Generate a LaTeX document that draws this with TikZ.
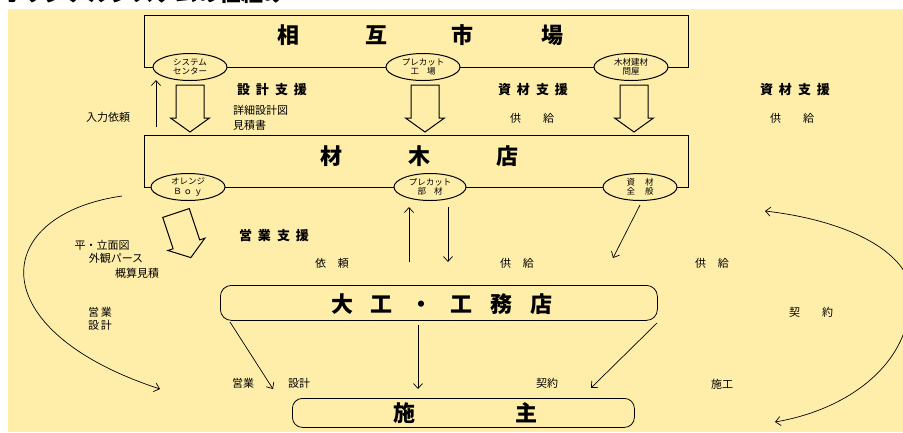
\documentclass[tikz,border=0pt]{standalone}
\usepackage{fontspec}
\setmainfont{Noto Sans CJK JP}
\usetikzlibrary{arrows.meta,shapes.geometric}
\definecolor{bg}{HTML}{FFEEAA}
\tikzset{
 lbl/.style={inner sep=0, font=\fontsize{11}{13}\selectfont},
 midlbl/.style={inner sep=0, font=\fontsize{13}{14}\selectfont\bfseries},
 big/.style={inner sep=0, font=\fontsize{22}{24}\selectfont\bfseries},
 ell/.style={ellipse, draw, line width=1pt, fill=bg, minimum width=74pt, minimum height=27pt, inner sep=0, align=center, font=\fontsize{8.5}{9.5}\selectfont},
 frame/.style={draw, line width=1.1pt, inner sep=0, anchor=north west},
 rframe/.style={draw, line width=0.8pt, rounded corners=11pt, inner sep=0, anchor=north west},
 con/.style={draw, line width=0.7pt, -{Straight Barb[length=5pt,width=9pt]}},
 hollow/.style={draw, line width=1pt, fill=bg},
 harrow/.pic={\draw[hollow] (-14,0) -- (-14,33) -- (-19.5,33) -- (0,47) -- (19.5,33) -- (14,33) -- (14,0) -- cycle;}
}
\begin{document}
\begin{tikzpicture}[x=1pt,y=-1pt]
\useasboundingbox (0,0) rectangle (903,432);
\clip (0,0) rectangle (903,432);
\fill[white] (0,0) rectangle (903,432);
\node[anchor=base west, inner sep=0, font=\fontsize{22}{24}\selectfont\bfseries] (title) at (0,1.5) {オリジナルシステムの仕組み};
\fill[bg] (8,9) rectangle (903,432);

% top box
\node[frame, minimum width=544pt, minimum height=52pt] (ichiba) at (144,15) {};
\node[big] (ichibatxt) at (420,35) {相\hskip66pt 互\hskip64pt 市\hskip68pt 場};
\node[ell] (syscenter) at (190,67) {システム\\センター};
\node[ell] (pcfac) at (423,67) {プレカット\\工\hskip8pt 場};
\node[ell] (tonya) at (631,67) {木材建材\\問屋};

% second box
\node[frame, minimum width=544pt, minimum height=52pt] (zaimoku) at (144,135) {};
\node[big] (zaimokutxt) at (419,156) {材\hskip66pt 木\hskip66pt 店};
\node[ell] (orange) at (188,187) {オレンジ\\Ｂ\hskip2pt ｏ\hskip2pt ｙ};
\node[ell, minimum width=72pt] (pcbuzai) at (430,187) {プレカット\\部\hskip8pt 材};
\node[ell] (shizai) at (640,187) {資\hskip10pt 材\\全\hskip10pt 般};

% hollow arrows
\pic at (190,85) {harrow};
\pic at (425,85) {harrow};
\pic at (634,85) {harrow};
\pic[rotate=18.4] at (176,213) {harrow};

% labels upper
\node[lbl] (nyuryoku) at (108,117) {入力依頼};
\node[midlbl] (sekkeishien) at (272,90) {設\hskip6pt 計\hskip6pt 支\hskip6pt 援};
\node[lbl, anchor=west] (shosai) at (233,110) {詳細設計図};
\node[lbl, anchor=west] (mitsumori) at (233,125) {見積書};
\node[midlbl] (shizaishien1) at (533,90) {資\hskip6pt 材\hskip6pt 支\hskip6pt 援};
\node[lbl] (kyokyu1) at (532,118) {供\hskip22pt 給};
\node[midlbl] (shizaishien2) at (795,90) {資\hskip6pt 材\hskip6pt 支\hskip6pt 援};
\node[lbl] (kyokyu2) at (792,118) {供\hskip22pt 給};

% labels middle
\node[midlbl] (eigyoshien) at (274,236) {営\hskip6pt 業\hskip6pt 支\hskip6pt 援};
\node[lbl] (irai) at (332,263) {依\hskip12pt 頼};
\node[lbl] (kyokyu3) at (517,263) {供\hskip12pt 給};
\node[lbl] (kyokyu4) at (712,263) {供\hskip12pt 給};
\node[lbl] (hira) at (102,245) {平・立面図};
\node[lbl] (gaikan) at (116,258) {外観パース};
\node[lbl] (gaisan) at (137,273) {概算見積};
\node[lbl, align=center] (eigyosekkei) at (100,319) {営\hskip2pt 業\\設\hskip2pt 計};
\node[lbl] (keiyaku1) at (811,312) {契\hskip22pt 約};

% daiku box and seshu box
\node[rframe, minimum width=437pt, minimum height=35pt] (daiku) at (220,285) {};
\node[big] (daikutxt) at (442,304) {大\hskip18pt 工\hskip18pt ・\hskip18pt 工\hskip18pt 務\hskip18pt 店};
\node[rframe, rounded corners=10pt, minimum width=342pt, minimum height=29pt] (seshu) at (292,398) {};
\node[big] (seshutxt) at (465,413) {施\hskip100pt 主};

% lower labels
\node[lbl] (eigyo2) at (243,383) {営業};
\node[lbl] (sekkei2) at (299,383) {設計};
\node[lbl] (keiyaku2) at (547,383) {契約};
\node[lbl] (sekou) at (722,384) {施工};

% connector coordinates
\coordinate (a1s) at (156,127); \coordinate (a1e) at (156,80);
\coordinate (a2s) at (409,262); \coordinate (a2e) at (409,207);
\coordinate (a3s) at (448,207); \coordinate (a3e) at (448,262);
\coordinate (a4s) at (640,205); \coordinate (a4e) at (613,258);
\coordinate (a5s) at (418,325); \coordinate (a5e) at (418,389);
\coordinate (a6s) at (230,322); \coordinate (a6e) at (273,389);
\coordinate (a7s) at (657,323); \coordinate (a7e) at (591,388);
\coordinate (c1s) at (122,196); \coordinate (c1e) at (160,389);
\coordinate (c2a) at (765,211); \coordinate (c2m) at (908,318); \coordinate (c2b) at (775,422);

\draw[con] (a1s) -- (a1e);
\draw[con] (a2s) -- (a2e);
\draw[con] (a3s) -- (a3e);
\draw[con] (a4s) -- (a4e);
\draw[con] (a5s) -- (a5e);
\draw[con] (a6s) -- (a6e);
\draw[con] (a7s) -- (a7e);
\draw[con] (c1s) .. controls (-10,215) and (-20,330) .. (c1e);
\draw[con] (c2m) .. controls (930,262) and (860,222) .. (c2a);
\draw[con] (c2m) .. controls (898,370) and (845,410) .. (c2b);
\end{tikzpicture}
\end{document}
